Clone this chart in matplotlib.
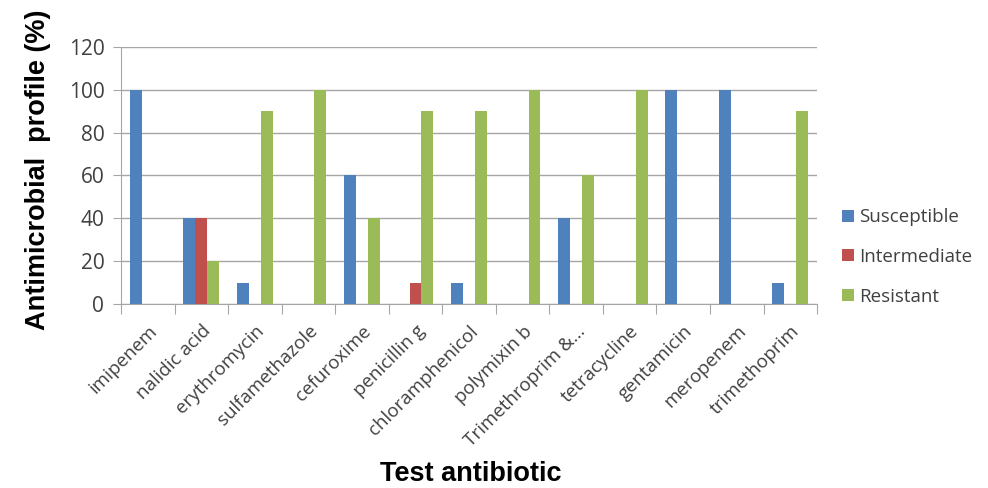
import numpy as np
import matplotlib.pyplot as plt

antibiotics = ['imipenem', 'nalidic acid', 'erythromycin', 'sulfamethazole', 'cefuroxime',
               'penicillin g', 'chloramphenicol', 'polymixin b', 'Trimethroprim &...',
               'tetracycline', 'gentamicin', 'meropenem', 'trimethoprim']
susceptible = [100, 40, 10, 0, 60, 0, 10, 0, 40, 0, 100, 100, 10]
intermediate = [0, 40, 0, 0, 0, 10, 0, 0, 0, 0, 0, 0, 0]
resistant = [0, 20, 90, 100, 40, 90, 90, 100, 60, 100, 0, 0, 90]

series = [('Susceptible', susceptible, '#4F81BD'),
          ('Intermediate', intermediate, '#C0504D'),
          ('Resistant', resistant, '#9BBB59')]

fig = plt.figure(figsize=(9.88, 4.88), dpi=100)
ax = fig.add_axes([0.1225, 0.377, 0.7045, 0.527])

x = np.arange(len(antibiotics))
w = 1 / 4.5
for i, (name, vals, color) in enumerate(series):
    ax.bar(x + (i - 1) * w, vals, w, color=color, label=name, zorder=3)

ax.set_xlim(-0.5, len(antibiotics) - 0.5)
ax.set_ylim(0, 120)
ax.set_yticks(range(0, 121, 20))
ax.yaxis.grid(True, color='#a6a6a6', linewidth=1, zorder=0)

# category ticks sit on the group boundaries, labels at the centers
ax.set_xticks(np.arange(-0.5, len(antibiotics)), minor=False)
ax.set_xticklabels([])
ax.set_xticks(x, minor=True)
ax.set_xticklabels(antibiotics, minor=True, rotation=45, ha='right',
                   rotation_mode='anchor', fontsize=13.5, family='Open Sans')
ax.tick_params(axis='x', which='minor', length=0, pad=13)
ax.tick_params(axis='x', which='major', length=7, color='#a6a6a6')
ax.tick_params(axis='y', length=6, color='#a6a6a6', labelsize=15, pad=6)
for lbl in ax.get_yticklabels():
    lbl.set_family('Open Sans')
    lbl.set_color('#404040')
for lbl in ax.get_xticklabels(minor=True):
    lbl.set_color('#404040')

for side in ['top', 'right']:
    ax.spines[side].set_visible(False)
ax.spines['left'].set_color('#a6a6a6')
ax.spines['bottom'].set_color('#a6a6a6')

fig.text(0.038, 0.652, 'Antimicrobial  profile (%)', fontsize=19.5, fontweight='bold',
         family='Liberation Sans', rotation=90, ha='center', va='center')
fig.text(0.476, 0.014, 'Test antibiotic', fontsize=19.5, fontweight='bold',
         family='Liberation Sans', ha='center', va='baseline')

ax.legend(loc='center left', bbox_to_anchor=(1.012, 0.183), frameon=False,
          prop={'family': 'Open Sans', 'size': 13.5}, handlelength=0.6,
          handleheight=0.6, labelspacing=1.15, handletextpad=0.3,
          labelcolor='#404040')

fig.savefig('out.png', dpi=100)
